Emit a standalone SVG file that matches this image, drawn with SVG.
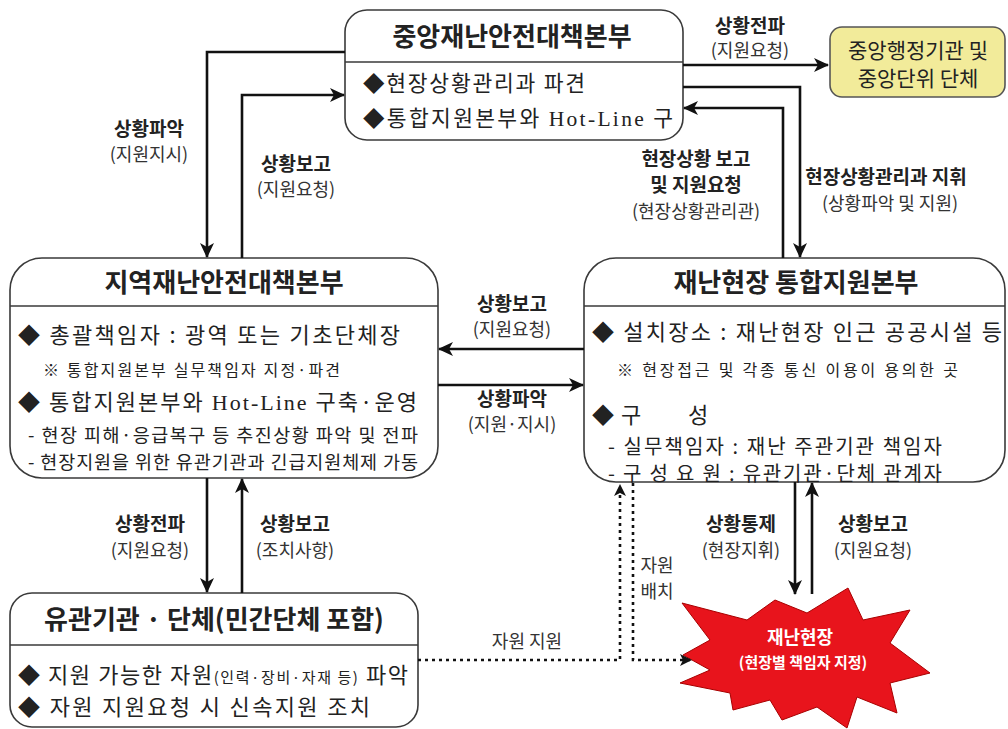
<svg xmlns="http://www.w3.org/2000/svg" width="1008" height="729" viewBox="0 0 1008 729">
<defs>
<marker id="ah" markerUnits="userSpaceOnUse" markerWidth="16" markerHeight="14" refX="14" refY="7" orient="auto">
<path d="M0,0 L15,7 L0,14 L4,7 z" fill="#111"/>
</marker>
<marker id="ahs" markerUnits="userSpaceOnUse" markerWidth="14" markerHeight="12" refX="12" refY="6" orient="auto">
<path d="M0,0 L12,6 L0,12 L3,6 z" fill="#111"/>
</marker>
<style>
.box{fill:#fff;stroke:#3a3a3a;stroke-width:1.6}
.div{stroke:#3a3a3a;stroke-width:1.6}
text{font-family:"Noto Sans CJK KR","Noto Sans",sans-serif;fill:#222}
.title{font-size:26px;font-weight:bold;text-anchor:middle}
.lb{font-size:19px;font-weight:bold;text-anchor:middle}
.ls{font-size:18px;text-anchor:middle;fill:#333}
.serif{font-family:"Liberation Serif","DejaVu Serif",serif}
.conn{fill:none;stroke:#111;stroke-width:2.6}
.dot{fill:none;stroke:#111;stroke-width:2.6;stroke-dasharray:3 4}
</style>
</defs>
<rect width="1008" height="729" fill="#fff"/>

<g id="central">
<rect class="box" x="345" y="10" width="338" height="130" rx="22"/>
<line class="div" x1="345" y1="62" x2="683" y2="62"/>
<text class="title" x="512" y="46">중앙재난안전대책본부</text>
<text x="363" y="91" font-size="21.5" textLength="222" lengthAdjust="spacing">◆현장상황관리과 파견</text>
<text x="363" y="126" font-size="21.5" textLength="310" lengthAdjust="spacing">◆통합지원본부와 <tspan class="serif">Hot-Line</tspan> 구</text>
</g>

<g id="central-agencies">
<rect x="830" y="27" width="175" height="70" rx="12" fill="#f2eb9a" stroke="#555" stroke-width="1.6"/>
<text x="918" y="58" font-size="21" text-anchor="middle">중앙행정기관 및</text>
<text x="918" y="86" font-size="21" text-anchor="middle">중앙단위 단체</text>
</g>

<g id="regional">
<rect class="box" x="10" y="258" width="428" height="220" rx="32"/>
<line class="div" x1="10" y1="306" x2="438" y2="306"/>
<text class="title" x="224" y="292">지역재난안전대책본부</text>
<text x="18" y="343" font-size="22" textLength="382" lengthAdjust="spacing">◆ 총괄책임자 : 광역 또는 기초단체장</text>
<text x="43" y="376" font-size="16" textLength="297" lengthAdjust="spacing">※ 통합지원본부 실무책임자 지정·파견</text>
<text x="18" y="410" font-size="22" textLength="399" lengthAdjust="spacing">◆ 통합지원본부와 <tspan class="serif">Hot-Line</tspan> 구축·운영</text>
<text x="28" y="442" font-size="18.5" textLength="390" lengthAdjust="spacing">- 현장 피해·응급복구 등 추진상황 파악 및 전파</text>
<text x="28" y="469" font-size="18.5" textLength="390" lengthAdjust="spacing">- 현장지원을 위한 유관기관과 긴급지원체제 가동</text>
</g>

<g id="onsite-hq">
<rect class="box" x="584" y="258" width="421" height="224" rx="32"/>
<line class="div" x1="584" y1="306" x2="1005" y2="306"/>
<text class="title" x="796" y="292">재난현장 통합지원본부</text>
<text x="592" y="340" font-size="22" textLength="410" lengthAdjust="spacing">◆ 설치장소 : 재난현장 인근 공공시설 등</text>
<text x="617" y="376" font-size="16" textLength="341" lengthAdjust="spacing">※ 현장접근 및 각종 통신 이용이 용의한 곳</text>
<text x="592" y="423" font-size="22">◆ <tspan x="621">구</tspan><tspan x="688">성</tspan></text>
<text x="608" y="454" font-size="20" textLength="334" lengthAdjust="spacing">- 실무책임자 : 재난 주관기관 책임자</text>
<text x="608" y="481" font-size="20" textLength="334" lengthAdjust="spacing">- 구 성 요 원 : 유관기관·단체 관계자</text>
</g>

<g id="related-orgs">
<rect class="box" x="10" y="593" width="408" height="134" rx="22"/>
<line class="div" x1="10" y1="645" x2="418" y2="645"/>
<text class="title" x="214" y="629">유관기관 · 단체(민간단체 포함)</text>
<text x="18" y="683" font-size="22" textLength="390" lengthAdjust="spacing">◆ 지원 가능한 자원<tspan font-size="15">(인력·장비·자재 등)</tspan> 파악</text>
<text x="18" y="715" font-size="22" textLength="352" lengthAdjust="spacing">◆ 자원 지원요청 시 신속지원 조치</text>
</g>

<g id="disaster-site">
<path d="M682,603 L747,620 L775,600 L807,613 L848,588 L863,620 L910,610 L890,643 L930,673 L890,683 L897,713 L857,697 L847,728 L817,707 L782,720 L770,700 L733,710 L730,693 L680,683 L710,670 L683,655 L710,640 Z" fill="#e8141c" stroke="#a80000" stroke-width="1"/>
<text x="800" y="644" font-size="18" font-weight="bold" text-anchor="middle" style="fill:#fff">재난현장</text>
<text x="803" y="668" font-size="15" font-weight="bold" text-anchor="middle" style="fill:#fff">(현장별 책임자 지정)</text>
</g>

<g id="connectors">
<path class="conn" d="M683,65 H828" marker-end="url(#ah)"/>
<path class="conn" d="M345,52 H207 V257" marker-end="url(#ah)"/>
<path class="conn" d="M242,258 V95 H344" marker-end="url(#ah)"/>
<path class="conn" d="M683,87 H800 V257" marker-end="url(#ah)"/>
<path class="conn" d="M783,258 V108 H684" marker-end="url(#ah)"/>
<path class="conn" d="M584,349 H439" marker-end="url(#ah)"/>
<path class="conn" d="M438,385 H583" marker-end="url(#ah)"/>
<path class="conn" d="M207,478 V592" marker-end="url(#ah)"/>
<path class="conn" d="M242,593 V479" marker-end="url(#ah)"/>
<path class="conn" d="M795,482 V594" marker-end="url(#ah)"/>
<path class="conn" d="M812,594 V483" marker-end="url(#ah)"/>
<path class="dot" d="M418,660 H620 V484" marker-end="url(#ahs)"/>
<path class="dot" d="M633,483 V660 H692" marker-end="url(#ahs)"/>

<text class="lb" x="750" y="33">상황전파</text>
<text class="ls" x="750" y="57">(지원요청)</text>
<text class="lb" x="149" y="136">상황파악</text>
<text class="ls" x="149" y="161">(지원지시)</text>
<text class="lb" x="296" y="171">상황보고</text>
<text class="ls" x="296" y="196">(지원요청)</text>
<text class="lb" x="696" y="166">현장상황 보고</text>
<text class="lb" x="696" y="192">및 지원요청</text>
<text class="ls" x="696" y="218">(현장상황관리관)</text>
<text class="lb" x="886" y="184" font-size="18">현장상황관리과 지휘</text>
<text class="ls" x="890" y="210">(상황파악 및 지원)</text>
<text class="lb" x="512" y="311">상황보고</text>
<text class="ls" x="512" y="336">(지원요청)</text>
<text class="lb" x="512" y="406">상황파악</text>
<text class="ls" x="512" y="431">(지원·지시)</text>
<text class="lb" x="150" y="531">상황전파</text>
<text class="ls" x="150" y="557">(지원요청)</text>
<text class="lb" x="295" y="531">상황보고</text>
<text class="ls" x="295" y="557">(조치사항)</text>
<text class="lb" x="741" y="531">상황통제</text>
<text class="ls" x="741" y="557">(현장지휘)</text>
<text class="lb" x="873" y="531">상황보고</text>
<text class="ls" x="873" y="557">(지원요청)</text>
<text class="ls" x="527" y="648">자원 지원</text>
<text class="ls" x="657" y="572">자원</text>
<text class="ls" x="657" y="598">배치</text>
</g>
</svg>
